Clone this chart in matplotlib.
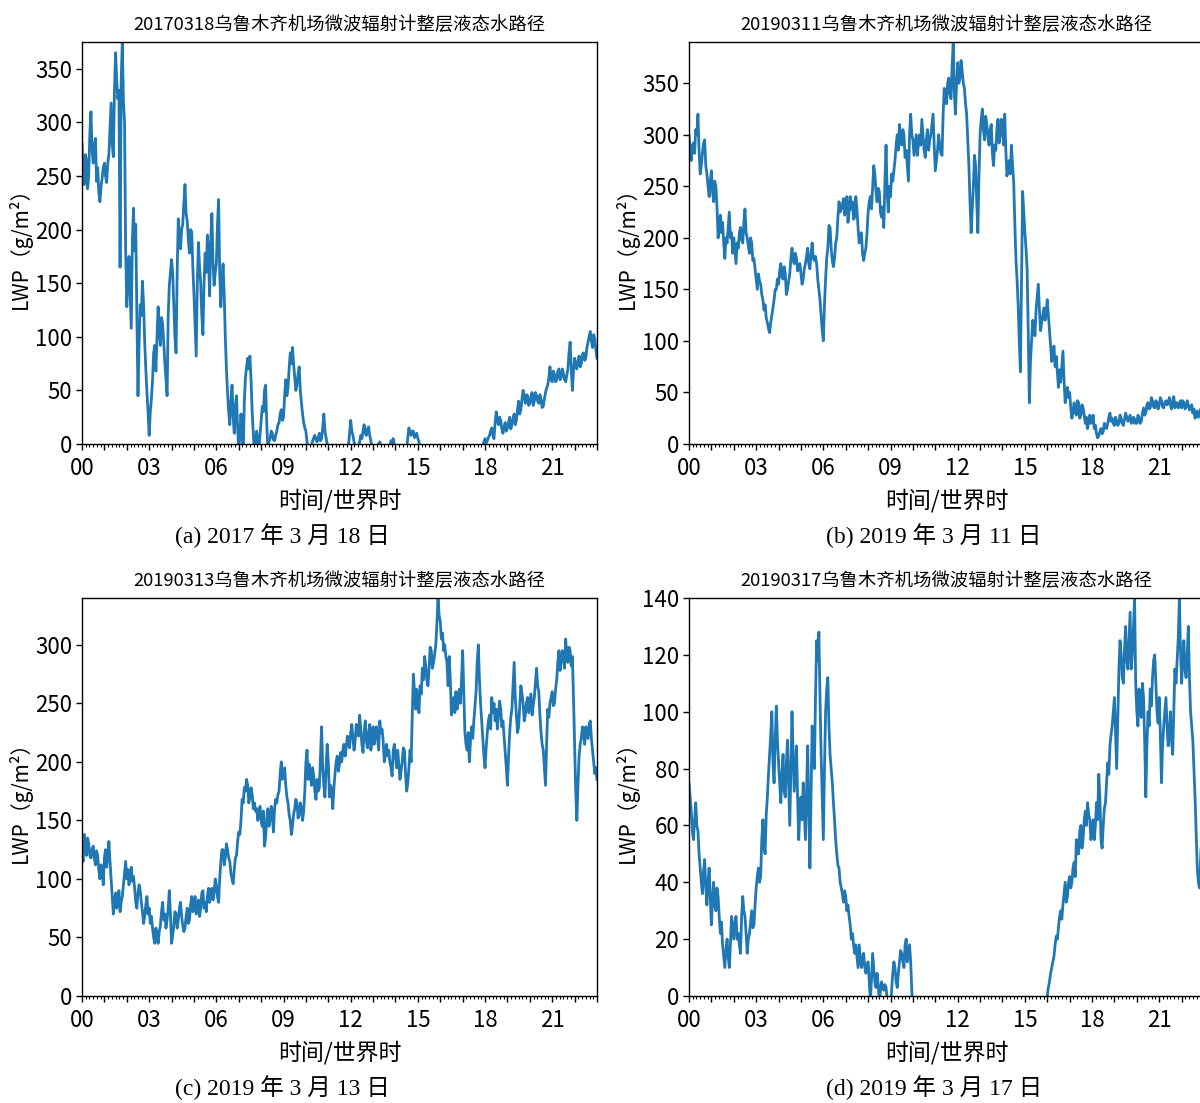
import numpy as np
import matplotlib
matplotlib.use("Agg")
import matplotlib.pyplot as plt
from matplotlib.ticker import MultipleLocator, FuncFormatter

# ---------------- data (LWP, g/m^2, sampled every 0.05 h from 00:00 to 23:00) -------------
lwp_20170318 = [
    280, 255, 242, 270, 265, 238, 250, 290, 310, 275, 262, 278, 285, 245, 258, 235, 226, 240, 248, 258,
    262, 250, 244, 262, 270, 295, 318, 280, 268, 330, 365, 340, 322, 330, 165, 340, 375, 320, 300, 180,
    128, 150, 175, 140, 108, 190, 220, 180, 205, 120, 45, 95, 130, 120, 152, 130, 95, 70, 48, 30,
    8, 30, 42, 60, 85, 92, 68, 100, 128, 105, 92, 118, 112, 95, 76, 60, 45, 120, 148, 160,
    172, 160, 130, 100, 85, 160, 210, 195, 182, 200, 205, 225, 242, 215, 208, 190, 178, 200, 198, 165,
    140, 110, 82, 150, 188, 165, 150, 120, 102, 150, 178, 160, 195, 175, 138, 190, 215, 170, 148, 160,
    168, 205, 228, 160, 128, 150, 168, 140, 100, 70, 48, 30, 18, 40, 55, 25, 10, 35, 45, 15,
    -8, 10, 28, 8, -10, 40, 62, 72, 80, 70, 82, 60, 30, 10, -10, 5, 12, 3, -5, 8,
    20, 35, 30, 50, 55, 20, -5, 2, 5, 12, 10, 4, 3, 8, 12, 18, 20, 28, 32, 22,
    25, 45, 60, 45, 52, 70, 85, 75, 90, 75, 62, 50, 55, 65, 72, 50, 38, 28, 20, 15,
    12, 2, -5, -8, -10, -2, 3, 6, 8, 4, 2, 6, 10, 3, 5, 15, 28, 12, 6, 0,
    -5, -8, -10, -12, -8, -12, -6, -9, -10, -8, -8, -6, -5, -9, -10, -7, -6, -5, -2, 10,
    22, 12, 8, 2, -5, -10, -8, -2, 2, 8, 5, 12, 18, 10, 8, 14, 16, 8, 3, -2,
    -5, -10, -8, -6, -4, 0, 2, -2, -5, -8, -10, -12, -8, -10, -6, -2, 3, 1, 5, 0,
    -5, -8, -8, -10, -10, -8, -6, -7, -8, -6, -5, 6, 15, 10, 8, 12, 12, 6, 8, 10,
    5, 2, -5, -8, -10, -9, -8, -10, -12, -11, -10, -9, -8, -9, -10, -8, -6, -7, -8, -9,
    -10, -9, -8, -10, -12, -11, -10, -9, -8, -9, -10, -8, -6, -7, -8, -9, -10, -9, -8, -8,
    -8, -9, -10, -8, -6, -7, -8, -9, -10, -9, -8, -7, -6, -8, -10, -8, -5, -4, -3, 2,
    5, 1, 3, 6, 8, 12, 15, 8, 5, 20, 30, 22, 18, 25, 22, 14, 10, 16, 20, 12,
    15, 20, 25, 14, 18, 24, 28, 18, 22, 32, 40, 28, 32, 42, 50, 44, 38, 46, 45, 36,
    38, 44, 48, 36, 40, 48, 45, 40, 38, 46, 42, 34, 35, 42, 48, 52, 55, 62, 72, 60,
    58, 68, 65, 58, 60, 68, 70, 60, 62, 70, 66, 60, 58, 64, 70, 85, 95, 70, 50, 68,
    80, 72, 70, 78, 82, 72, 75, 84, 85, 78, 80, 90, 95, 100, 105, 96, 90, 102, 98, 88,
    80,
]

lwp_20190311 = [
    300, 285, 275, 290, 292, 282, 305, 300, 320, 285, 262, 270, 282, 292, 295, 270, 262, 250, 240, 255,
    265, 245, 235, 255, 250, 230, 200, 212, 222, 205, 215, 195, 180, 200, 195, 210, 225, 200, 205, 185,
    200, 188, 175, 195, 190, 205, 210, 198, 195, 215, 228, 205, 200, 192, 185, 200, 195, 178, 180, 170,
    160, 150, 165, 158, 155, 145, 140, 130, 135, 122, 118, 112, 108, 118, 125, 132, 140, 150, 150, 160,
    155, 168, 175, 162, 160, 172, 165, 145, 150, 158, 165, 180, 190, 178, 175, 185, 180, 168, 170, 175,
    165, 155, 160, 170, 175, 182, 190, 175, 170, 185, 195, 180, 178, 182, 175, 160, 150, 140, 125, 110,
    100, 135, 160, 180, 190, 212, 210, 190, 178, 172, 180, 195, 200, 220, 235, 225, 228, 232, 238, 222,
    230, 240, 215, 225, 240, 228, 235, 218, 220, 240, 228, 210, 195, 200, 205, 185, 178, 185, 190, 205,
    225, 235, 240, 228, 248, 270, 262, 245, 235, 248, 245, 225, 220, 230, 210, 255, 290, 245, 225, 250,
    240, 262, 255, 265, 275, 290, 300, 285, 310, 298, 290, 305, 300, 278, 285, 270, 255, 300, 320, 300,
    295, 280, 290, 300, 280, 292, 300, 290, 315, 300, 285, 278, 295, 305, 285, 295, 300, 310, 320, 290,
    265, 275, 285, 300, 290, 282, 280, 320, 345, 338, 330, 350, 355, 340, 335, 365, 390, 340, 320, 350,
    370, 350, 355, 372, 362, 350, 345, 330, 320, 295, 270, 235, 205, 228, 250, 280, 270, 235, 205, 260,
    300, 315, 325, 305, 295, 318, 310, 298, 290, 305, 310, 282, 270, 290, 285, 305, 315, 292, 300, 315,
    305, 290, 320, 285, 260, 268, 275, 262, 290, 270, 255, 215, 180, 160, 135, 100, 70, 160, 245, 225,
    205, 190, 170, 110, 40, 80, 100, 120, 115, 105, 130, 142, 155, 130, 110, 118, 125, 132, 120, 128,
    140, 125, 110, 95, 80, 88, 95, 75, 85, 70, 55, 72, 60, 75, 90, 62, 40, 48, 55, 45,
    50, 35, 25, 32, 40, 30, 28, 42, 40, 25, 28, 38, 35, 28, 20, 26, 15, 22, 28, 20,
    22, 28, 15, 18, 10, 6, 8, 12, 15, 10, 12, 20, 18, 15, 20, 26, 30, 22, 25, 20,
    18, 26, 22, 18, 20, 28, 25, 20, 18, 24, 30, 26, 22, 25, 28, 20, 22, 26, 20, 24,
    20, 28, 25, 20, 22, 30, 35, 28, 30, 38, 40, 34, 35, 45, 42, 36, 35, 42, 40, 34,
    38, 45, 42, 36, 35, 40, 42, 38, 40, 45, 38, 34, 42, 46, 35, 40, 40, 35, 38, 42,
    35, 42, 40, 34, 36, 42, 38, 33, 35, 38, 30, 34, 25, 30, 32, 26, 28, 34, 30, 24,
    28,
]

lwp_20190313 = [
    125, 115, 138, 125, 120, 135, 130, 120, 118, 125, 128, 118, 112, 124, 120, 108, 100, 112, 108, 95,
    118, 125, 110, 120, 132, 115, 100, 85, 70, 80, 88, 75, 80, 90, 72, 80, 85, 95, 105, 115,
    100, 108, 95, 105, 110, 98, 102, 92, 80, 75, 88, 95, 90, 80, 72, 62, 68, 78, 85, 70,
    75, 62, 68, 58, 50, 45, 58, 52, 45, 55, 60, 72, 80, 65, 70, 58, 65, 75, 90, 70,
    45, 52, 60, 72, 70, 58, 65, 75, 80, 68, 60, 55, 58, 68, 75, 62, 65, 78, 85, 72,
    78, 85, 70, 78, 82, 68, 75, 88, 90, 75, 80, 72, 85, 92, 80, 90, 92, 82, 88, 100,
    95, 85, 80, 100, 115, 125, 125, 112, 118, 130, 125, 118, 115, 105, 100, 96, 108, 118, 120, 132,
    140, 138, 150, 168, 165, 178, 175, 185, 180, 165, 170, 178, 172, 160, 165, 158, 160, 150, 155, 162,
    150, 145, 158, 128, 135, 152, 160, 145, 150, 162, 155, 140, 160, 168, 165, 172, 175, 190, 200, 185,
    190, 195, 180, 170, 165, 155, 150, 138, 145, 155, 160, 168, 165, 152, 155, 165, 160, 150, 158, 175,
    200, 210, 185, 198, 190, 180, 195, 188, 175, 168, 185, 175, 178, 205, 230, 195, 180, 170, 195, 215,
    200, 170, 180, 175, 160, 178, 190, 200, 205, 192, 198, 208, 200, 210, 215, 205, 212, 222, 220, 212,
    225, 232, 220, 210, 218, 232, 228, 222, 240, 228, 215, 208, 225, 235, 218, 212, 225, 232, 210, 218,
    230, 215, 222, 230, 220, 210, 235, 225, 228, 218, 200, 208, 215, 205, 210, 200, 195, 188, 210, 215,
    205, 195, 210, 198, 185, 192, 200, 212, 210, 190, 175, 182, 195, 210, 200, 240, 275, 260, 245, 262,
    250, 242, 265, 258, 280, 270, 290, 282, 270, 265, 280, 298, 295, 280, 285, 292, 300, 318, 340, 325,
    320, 305, 310, 295, 300, 290, 285, 265, 290, 270, 240, 248, 255, 242, 260, 245, 255, 262, 250, 270,
    295, 260, 225, 215, 210, 225, 200, 218, 230, 220, 235, 248, 260, 285, 300, 270, 250, 235, 220, 205,
    195, 212, 225, 235, 240, 228, 255, 242, 250, 235, 245, 228, 240, 252, 245, 230, 235, 222, 210, 195,
    180, 205, 225, 238, 245, 265, 285, 255, 240, 225, 230, 248, 265, 258, 250, 235, 240, 250, 255, 242,
    250, 258, 240, 248, 255, 268, 280, 265, 260, 240, 225, 215, 210, 195, 180, 215, 245, 238, 250, 255,
    260, 248, 250, 262, 270, 285, 295, 278, 285, 295, 290, 280, 305, 292, 285, 298, 295, 282, 290, 255,
    215, 175, 150, 180, 205, 215, 220, 230, 225, 215, 230, 222, 220, 232, 235, 220, 210, 200, 190, 195,
    185,
]

lwp_20190317 = [
    75, 70, 65, 58, 55, 62, 68, 60, 58, 50, 45, 40, 36, 44, 48, 38, 32, 40, 45, 35,
    25, 34, 40, 32, 30, 38, 35, 28, 22, 26, 18, 14, 10, 16, 20, 14, 10, 18, 28, 24,
    20, 26, 28, 20, 22, 18, 15, 28, 35, 30, 28, 22, 15, 20, 22, 26, 30, 24, 25, 32,
    38, 42, 45, 40, 42, 55, 62, 52, 50, 64, 70, 78, 85, 92, 100, 82, 75, 90, 102, 90,
    82, 75, 68, 78, 85, 72, 70, 82, 90, 75, 60, 80, 100, 85, 72, 80, 88, 70, 55, 65,
    70, 62, 75, 65, 55, 72, 88, 65, 45, 70, 95, 85, 80, 105, 125, 118, 128, 105, 85, 70,
    55, 80, 100, 108, 112, 95, 85, 80, 75, 68, 62, 55, 50, 46, 45, 40, 38, 36, 33, 37,
    35, 30, 32, 28, 25, 20, 22, 18, 15, 18, 14, 10, 18, 14, 10, 13, 15, 10, 8, 11,
    12, 5, -2, 6, 15, 10, 5, 3, 8, 4, -2, 2, 5, 3, 2, 4, 3, -1, -5, -5,
    -5, 2, 8, 12, 10, 5, 3, 8, 12, 16, 15, 12, 10, 18, 20, 12, 15, 18, 12, 2,
    -10, -11, -12, -10, -10, -9, -8, -10, -12, -11, -10, -9, -8, -10, -10, -11, -12, -10, -10, -9,
    -10, -11, -12, -10, -10, -9, -8, -10, -12, -11, -10, -9, -8, -10, -10, -11, -12, -10, -10, -9,
    -10, -11, -12, -10, -10, -9, -8, -10, -12, -11, -10, -9, -8, -10, -10, -11, -12, -10, -10, -9,
    -10, -11, -12, -10, -10, -9, -8, -10, -12, -11, -10, -9, -8, -10, -10, -11, -12, -10, -10, -9,
    -10, -11, -12, -10, -10, -9, -8, -10, -12, -11, -10, -9, -8, -10, -10, -11, -12, -10, -10, -9,
    -10, -11, -12, -10, -10, -9, -8, -10, -12, -11, -10, -9, -8, -10, -10, -11, -12, -10, -8, -5,
    0, 3, 5, 8, 10, 12, 14, 18, 21, 20, 24, 28, 30, 27, 32, 36, 40, 33, 35, 40,
    42, 38, 40, 45, 47, 42, 55, 50, 50, 58, 60, 52, 55, 62, 65, 60, 68, 64, 62, 55,
    58, 62, 55, 60, 68, 62, 78, 70, 55, 52, 60, 66, 68, 75, 82, 78, 88, 92, 95, 100,
    105, 92, 80, 98, 115, 125, 120, 112, 110, 122, 130, 118, 115, 125, 135, 115, 120, 130, 140, 110,
    100, 95, 108, 102, 98, 110, 105, 90, 70, 88, 100, 95, 108, 102, 112, 118, 120, 110, 100, 96,
    105, 92, 75, 88, 95, 100, 105, 95, 88, 92, 100, 90, 85, 100, 115, 110, 118, 126, 140, 122,
    110, 118, 125, 115, 112, 120, 130, 112, 100, 95, 90, 80, 70, 58, 45, 40, 38, 48, 60, 50,
    55,
]

titles = [
    "20170318乌鲁木齐机场微波辐射计整层液态水路径",
    "20190311乌鲁木齐机场微波辐射计整层液态水路径",
    "20190313乌鲁木齐机场微波辐射计整层液态水路径",
    "20190317乌鲁木齐机场微波辐射计整层液态水路径",
]
captions = [
    "(a) 2017 年 3 月 18 日",
    "(b) 2019 年 3 月 11 日",
    "(c) 2019 年 3 月 13 日",
    "(d) 2019 年 3 月 17 日",
]
series = [lwp_20170318, lwp_20190311, lwp_20190313, lwp_20190317]
x_label = "时间/世界时"
y_label = "LWP（g/m²）"
day_end_hour = 23.0

# ---------------- figure ----------------
W, H = 1200, 1103
fig = plt.figure(figsize=(W / 100, H / 100), dpi=100)

cjk = ["Noto Sans CJK SC", "DejaVu Sans"]
serif = ["Liberation Serif", "Noto Sans CJK SC"]

# axes boxes in pixels: (left, top, right, bottom)
boxes = [
    (82, 42, 597, 444),
    (689, 42, 1204, 444),
    (82, 598, 597, 996),
    (689, 598, 1204, 996),
]
cap_pos = [(282, 536), (934, 536), (282, 1088), (934, 1088)]

hour_fmt = FuncFormatter(lambda v, p: f"{int(round(v)):02d}" if int(round(v)) % 3 == 0 else "")

for i, vals in enumerate(series):
    l, t, r, b = boxes[i]
    ax = fig.add_axes([l / W, 1 - b / H, (r - l) / W, (b - t) / H])
    v = np.array(vals, dtype=float)
    hours = np.linspace(0.0, day_end_hour, len(v))
    ax.plot(hours, v, color="#1f77b4", lw=2.0)
    ax.set_xlim(0, day_end_hour)
    ax.set_ylim(0, v.max())
    ax.xaxis.set_major_locator(MultipleLocator(1))
    ax.xaxis.set_minor_locator(MultipleLocator(1 / 6))
    ax.xaxis.set_major_formatter(hour_fmt)
    ax.tick_params(axis="x", which="major", length=4.5, width=1.0, pad=5)
    ax.tick_params(axis="x", which="minor", length=2.5, width=0.8)
    ax.tick_params(axis="y", which="major", length=4, width=1.0, pad=3)
    for lab in ax.get_xticklabels() + ax.get_yticklabels():
        lab.set_fontfamily(cjk)
        lab.set_fontsize(16)
    ax.set_title(titles[i], fontfamily=cjk, fontsize=13.2, pad=8.5)
    ax.set_xlabel(x_label, fontfamily=cjk, fontsize=16.5, labelpad=6)
    ax.set_ylabel(y_label, fontfamily=cjk, fontsize=15)
    ax.yaxis.set_label_coords(-0.097, 0.5)
    for s in ax.spines.values():
        s.set_linewidth(1.0)
    cx, cy = cap_pos[i]
    fig.text(cx / W, 1 - cy / H, captions[i], ha="center", va="center",
             fontfamily=serif, fontsize=17)

fig.savefig("out.png", dpi=100)
